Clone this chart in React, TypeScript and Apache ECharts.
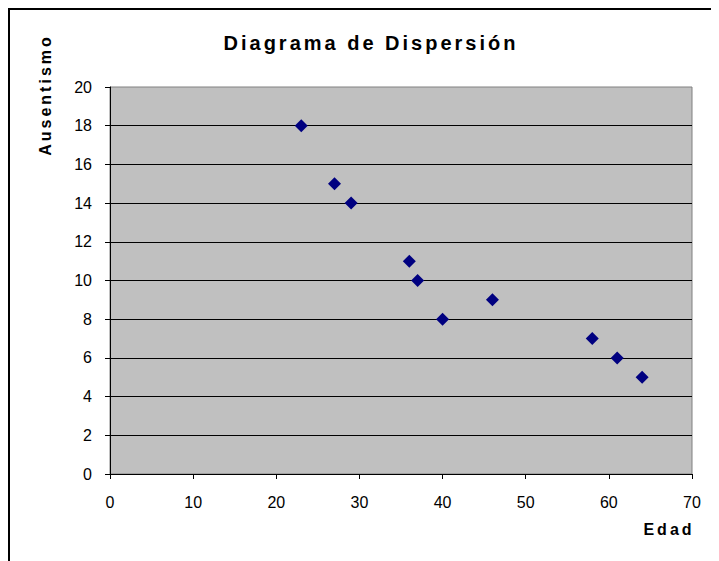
import React, { useEffect, useRef } from "react";
import * as echarts from "echarts";

const edad: number[] = [23, 27, 29, 36, 37, 40, 46, 58, 61, 64];
const ausentismo: number[] = [18, 15, 14, 11, 10, 8, 9, 7, 6, 5];
const titleText = "Diagrama de Dispersión";
const xName = "Edad";
const yName = "Ausentismo";

export default function App() {
  const ref = useRef<HTMLDivElement>(null);
  useEffect(() => {
    if (!ref.current) return;
    const chart = echarts.init(ref.current, undefined, { renderer: "svg" });
    const font = "Arial, 'Liberation Sans', sans-serif";
    chart.setOption({
      animation: false,
      backgroundColor: "#ffffff",
      title: {
        text: titleText,
        left: 358,
        textAlign: "center",
        top: 20,
        textStyle: { fontFamily: font, fontWeight: "bold", fontSize: 20, color: "#000" },
      },
      grid: {
        left: 102,
        top: 79,
        width: 582,
        height: 387,
        show: true,
        backgroundColor: "#C0C0C0",
        borderColor: "#808080",
        borderWidth: 1,
      },
      xAxis: {
        type: "value",
        min: 0,
        max: 70,
        interval: 10,
        axisLine: { show: true, lineStyle: { color: "#000", width: 1 } },
        axisTick: { show: true, length: 5, lineStyle: { color: "#000" } },
        axisLabel: { color: "#000", fontFamily: font, fontSize: 16, margin: 20 },
        splitLine: { show: false },
      },
      yAxis: {
        type: "value",
        min: 0,
        max: 20,
        interval: 2,
        axisLine: { show: true, lineStyle: { color: "#000", width: 1 } },
        axisTick: { show: true, length: 5, lineStyle: { color: "#000" } },
        axisLabel: { color: "#000", fontFamily: font, fontSize: 16, margin: 18 },
        splitLine: { show: true, showMaxLine: false, lineStyle: { color: "#000", width: 1 } },
      },
      graphic: [
        {
          type: "rect",
          shape: { x: 1, y: 1, width: 1200, height: 1200 },
          style: { fill: "none", stroke: "#000", lineWidth: 2 },
          silent: true,
        },
        {
          type: "text",
          x: 37,
          y: 87,
          rotation: Math.PI / 2,
          style: {
            text: yName,
            fontFamily: font,
            fontWeight: "bold",
            fontSize: 16,
            fill: "#000",
            align: "center",
            verticalAlign: "middle",
          },
        },
        {
          type: "text",
          x: 661,
          y: 521,
          style: {
            text: xName,
            fontFamily: font,
            fontWeight: "bold",
            fontSize: 16,
            fill: "#000",
            align: "center",
            verticalAlign: "middle",
          },
        },
      ],
      series: [
        {
          type: "scatter",
          data: edad.map((x, i) => [x, ausentismo[i]]),
          symbol: "diamond",
          symbolSize: 13,
          itemStyle: { color: "#000080", opacity: 1 },
        },
      ],
    });
    return () => chart.dispose();
  }, []);
  return (
    <>
      <style>{`.chartbox text[style*="bold"] { letter-spacing: 3px; }`}</style>
      <div className="chartbox" ref={ref} style={{ width: 711, height: 553 }} />
    </>
  );
}
